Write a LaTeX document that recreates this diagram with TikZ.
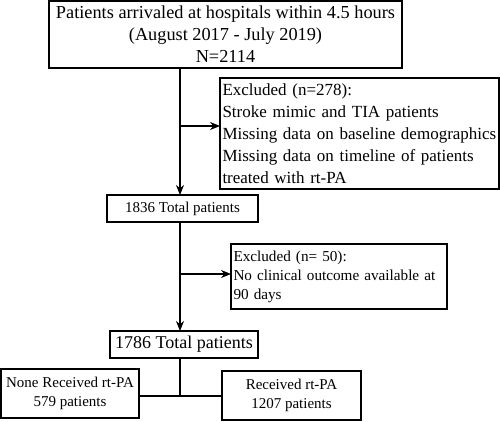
\documentclass[tikz,border=0pt]{standalone}
\usepackage{fontspec}
\setmainfont{Liberation Serif}
\usetikzlibrary{arrows.meta,calc}
\hyphenpenalty=10000
\exhyphenpenalty=10000
\begin{document}
\begin{tikzpicture}[x=1pt,y=1pt,
  box/.style={draw,line width=1.2pt,inner sep=0pt,outer sep=0pt},
  lbox/.style={box,align=left,inner xsep=2.5pt},
  cbox/.style={box,align=center},
  ln/.style={line width=1.2pt},
  arr/.style={ln,-{Stealth[length=10pt,width=8pt]}}]
\useasboundingbox (0,0) rectangle (500,-421);
\node[cbox,minimum width=353pt,minimum height=67pt,font=\fontsize{18.3}{22}\selectfont] (top) at (225.5,-34.5)
  {Patients arrivaled at hospitals within 4.5 hours\\(August 2017 - July 2019)\\N=2114};
\node[lbox,text width=274pt,minimum height=111pt,font=\fontsize{17}{22}\selectfont] (ex1) at (359.5,-133.5)
  {\mbox{Excluded (n=278):}\\\mbox{Stroke mimic and TIA patients}\\\mbox{Missing data on baseline demographics}\\\mbox{Missing data on timeline of patients}\\\mbox{treated with rt-PA}};
\node[cbox,minimum width=151pt,minimum height=27pt,font=\fontsize{15}{18}\selectfont] (n1836) at (182.5,-208.5) {1836 Total patients};
\node[lbox,text width=211pt,minimum height=65pt,font=\fontsize{15.2}{19}\selectfont] (ex2) at (339,-276.5)
  {\mbox{Excluded (n= 50):}\\\mbox{No clinical outcome available at}\\\mbox{90 days}};
\node[cbox,minimum width=148pt,minimum height=27pt,font=\fontsize{18}{21}\selectfont] (n1786) at (184,-344.5) {1786 Total patients};
\node[cbox,minimum width=138pt,minimum height=49pt,font=\fontsize{15}{19}\selectfont] (none) at (70,-393.5) {None Received rt-PA\\579 patients};
\node[cbox,minimum width=139pt,minimum height=49pt,font=\fontsize{15}{19}\selectfont] (rec) at (291.5,-395.5) {Received rt-PA\\1207 patients};
\coordinate (cx) at (180,0);
\coordinate (j1) at (180,-126);
\coordinate (j2) at (180,-274);
\coordinate (j3) at (180,-396);
\draw[arr] (top.south -| cx) -- (n1836.north -| cx);
\draw[arr] (j1) -- (j1 -| ex1.west);
\draw[arr] (n1836.south -| cx) -- (n1786.north -| cx);
\draw[arr] (j2) -- (j2 -| ex2.west);
\draw[ln] (n1786.south -| cx) -- (j3);
\draw[ln] (j3 -| none.east) -- (j3 -| rec.west);
\end{tikzpicture}
\end{document}
